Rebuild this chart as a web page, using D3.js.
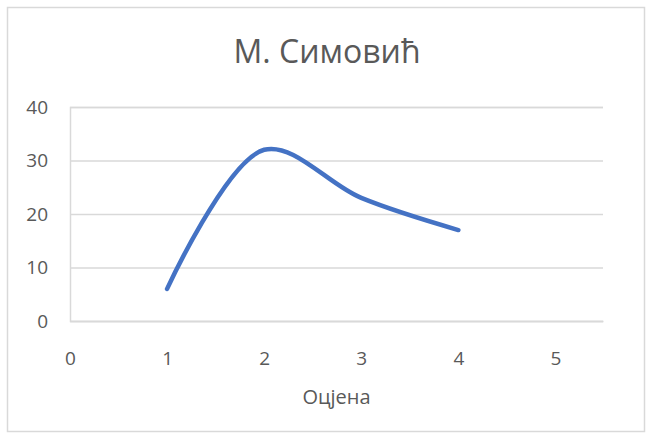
<!DOCTYPE html>
<html>
<head>
<meta charset="utf-8">
<script src="https://cdn.jsdelivr.net/npm/d3@7"></script>
<style>
html,body{margin:0;padding:0;background:#fff;}
svg{display:block;}
text{font-family:"Open Sans","Noto Sans",sans-serif;fill:#595959;}
</style>
</head>
<body>
<svg id="chart" width="648" height="438"></svg>
<script>
const chartTitle = "М. Симовић";
const xAxisTitle = "Оцјена";
const xValues = [1, 2, 3, 4];
const yValues = [6, 32, 23, 17];
const xTicks = [0, 1, 2, 3, 4, 5];
const yTicks = [0, 10, 20, 30, 40];

const svg = d3.select("#chart");
const plot = {left: 70, right: 603, top: 107, bottom: 321};

svg.append("rect").attr("x", 7.5).attr("y", 7.5).attr("width", 637).attr("height", 424)
  .attr("fill", "#fff").attr("stroke", "#d9d9d9").attr("stroke-width", 1.5);

const x = d3.scaleLinear().domain([0, 5.49]).range([plot.left, plot.right]);
const y = d3.scaleLinear().domain([0, 40]).range([plot.bottom, plot.top]);

const yAxis = d3.axisLeft(y).tickValues(yTicks).tickSize(-(plot.right - plot.left)).tickPadding(22).tickFormat(d3.format("d"));
const gy = svg.append("g").attr("transform", `translate(${plot.left},0)`).call(yAxis);
gy.select(".domain").attr("stroke", "#d9d9d9").attr("stroke-width", 1.5);
gy.selectAll(".tick line").attr("stroke", "#d9d9d9").attr("stroke-width", 1.5);
gy.selectAll(".tick text").attr("font-size", 19).attr("fill", "#595959").attr("dy", "0.34em");

const xAxis = d3.axisBottom(x).tickValues(xTicks).tickSize(0).tickPadding(31).tickFormat(d3.format("d"));
const gx = svg.append("g").attr("transform", `translate(0,${plot.bottom})`).call(xAxis);
gx.select(".domain").attr("stroke", "#d9d9d9").attr("stroke-width", 1.5);
gx.selectAll(".tick text").attr("font-size", 19).attr("fill", "#595959").attr("dy", "0.71em");

const pts = xValues.map((v, i) => [v, yValues[i]]);
const line = d3.line().x(d => x(d[0])).y(d => y(d[1])).curve(d3.curveCatmullRom.alpha(0.5));
svg.append("path").datum(pts).attr("d", line).attr("fill", "none")
  .attr("stroke", "#4472C4").attr("stroke-width", 4.5).attr("stroke-linecap", "round");

svg.append("text").attr("x", 327).attr("y", 62.5).attr("text-anchor", "middle")
  .attr("font-size", 32).text(chartTitle);

svg.append("text").attr("x", (plot.left + plot.right) / 2).attr("y", 404).attr("text-anchor", "middle")
  .attr("font-size", 20).text(xAxisTitle);
</script>
</body>
</html>
